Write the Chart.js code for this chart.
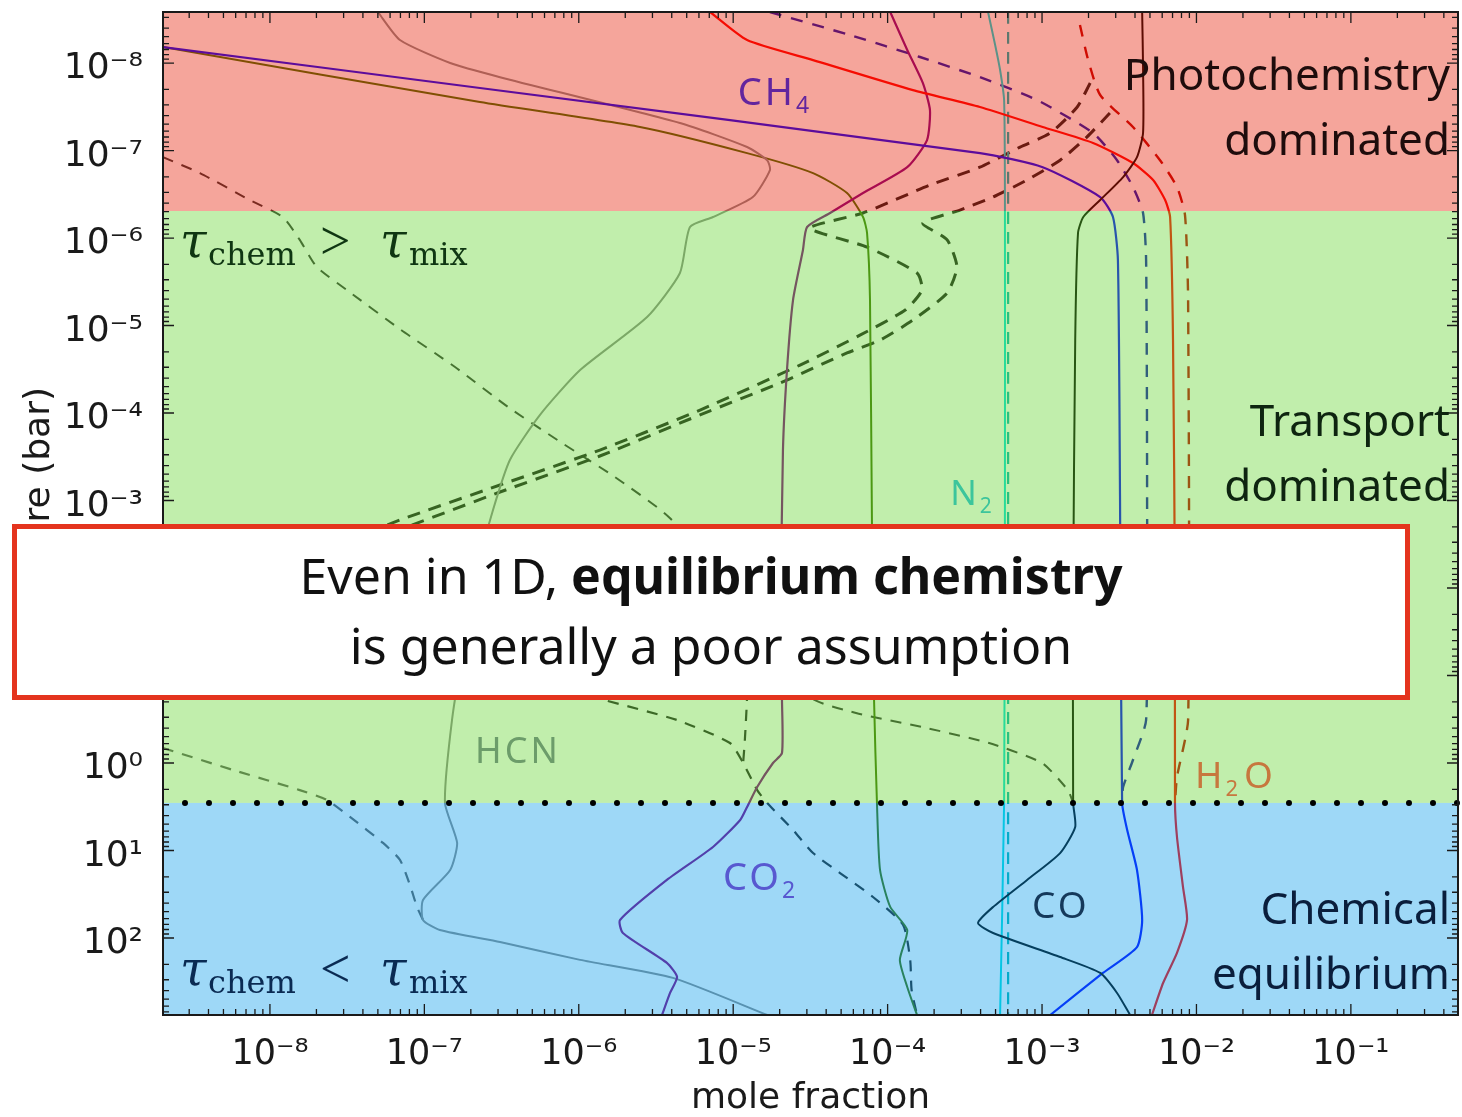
<!DOCTYPE html>
<html>
<head>
<meta charset="utf-8">
<script src="https://cdn.jsdelivr.net/npm/chart.js@4.4.1/dist/chart.umd.min.js"></script>
<style>
  html, body { margin: 0; padding: 0; background: #fff; }
  #wrap { width: 1462px; height: 1117px; }
</style>
</head>
<body>
<div id="wrap"><canvas id="chemChart" width="1462" height="1117"></canvas></div>
<script>
// axis ranges (mole fraction, pressure in bar) and tick values
const xRange = [2.03e-9, 0.494];
const yRange = [2.61e-9, 759];
const xTicks = [1e-8, 1e-7, 1e-6, 1e-5, 1e-4, 1e-3, 1e-2, 1e-1];
const yTicks = [1e-8, 1e-7, 1e-6, 1e-5, 1e-4, 1e-3, 1e-2, 1e-1, 1e0, 1e1, 1e2];

// region boundaries (bar): photochemistry | transport | chemical equilibrium
const regionBounds = [4.91e-7, 2.86];

// solid profiles: [mole fraction, pressure]
const ch4 = [[2.03e-9,6.56e-9],[2.29e-7,1.93e-8],[3.97e-4,1.07e-7],[1.01e-3,1.55e-7],[2.38e-3,3.40e-7],[2.88e-3,5.75e-7],[3.10e-3,1.78e-6],[3.20e-3,9.86e-4],[3.30e-3,2.86],[3.56e-3,5.83],[4.12e-3,16.7],[4.45e-3,62.2],[4.12e-3,127],[2.48e-3,251],[1.13e-3,759]];
const h2o = [[7.08e-6,2.61e-9],[1.23e-5,5.46e-9],[3.29e-5,9.25e-9],[1.46e-4,2.04e-8],[3.96e-4,3.18e-8],[1.01e-3,5.38e-8],[2.14e-3,8.20e-8],[3.88e-3,1.39e-7],[5.24e-3,2.17e-7],[6.27e-3,3.68e-7],[6.75e-3,5.75e-7],[7.05e-3,1.47e-5],[7.26e-3,1.37e-2],[7.26e-3,2.86],[7.48e-3,7.01],[8.18e-3,26.1],[8.69e-3,62.2],[7.48e-3,148],[6.08e-3,327],[5.15e-3,759]];
const co = [[4.45e-3,2.61e-9],[4.51e-3,1.11e-8],[4.51e-3,6.31e-8],[4.12e-3,1.19e-7],[3.35e-3,2.01e-7],[2.38e-3,3.68e-7],[1.85e-3,5.75e-7],[1.71e-3,8.77e-7],[1.64e-3,1.47e-5],[1.59e-3,1.37e-2],[1.59e-3,2.86],[1.64e-3,5.39],[1.31e-3,10.7],[8.0e-4,21.7],[4.82e-4,44.2],[3.85e-4,67.4],[4.82e-4,87.7],[1.31e-3,165],[2.38e-3,251],[3.06e-3,425],[3.72e-3,759]];
const co2 = [[1.04e-4,2.61e-9],[1.34e-4,7.10e-9],[1.69e-4,1.69e-8],[1.88e-4,3.44e-8],[1.80e-4,7.59e-8],[1.34e-4,1.55e-7],[6.93e-5,3.06e-7],[4.24e-5,5.18e-7],[3.01e-5,7.48e-7],[2.83e-5,1.37e-6],[2.44e-5,5.12e-6],[2.23e-5,3.23e-5],[2.10e-5,2.65e-4],[2.04e-5,1.37e-2],[2.07e-5,0.191],[2.07e-5,0.769],[1.81e-5,1.0],[1.43e-5,1.88],[1.23e-5,3.18],[1.11e-5,4.48],[7.40e-6,9.12],[3.72e-6,21.7],[1.85e-6,62.2],[1.93e-6,87.7],[3.72e-6,193],[4.33e-6,279],[3.90e-6,425],[3.46e-6,759]];
const n2 = [[4.47e-4,2.61e-9],[4.97e-4,6.22e-9],[5.35e-4,1.20e-8],[5.68e-4,2.65e-8],[5.75e-4,3.68e-7],[5.75e-4,9.86e-4],[5.68e-4,2.86],[5.35e-4,759]];
const hcn = [[5.0e-8,2.61e-9],[6.95e-8,5.46e-9],[1.47e-7,1.0e-8],[3.09e-7,1.45e-8],[4.52e-6,4.85e-8],[1.23e-5,9.12e-8],[1.66e-5,1.29e-7],[1.73e-5,1.67e-7],[1.34e-5,3.40e-7],[7.40e-6,5.75e-7],[5.25e-6,7.48e-7],[4.52e-6,2.51e-6],[2.77e-6,8.0e-6],[1.02e-6,3.23e-5],[5.61e-7,1.05e-4],[3.58e-7,3.44e-4],[2.78e-7,1.29e-3],[2.29e-7,4.79e-3],[1.83e-7,3.93e-2],[1.51e-7,0.323],[1.36e-7,2.86],[1.63e-7,8.20],[1.47e-7,16.7],[9.8e-8,36.8],[9.8e-8,62.2],[1.26e-7,81.1],[3.09e-7,111],[1.02e-6,178],[4.07e-6,286],[1.66e-5,759]];
const nh3 = [[2.03e-9,6.56e-9],[2.29e-7,2.79e-8],[2.49e-6,5.38e-8],[1.23e-5,1.07e-7],[3.29e-5,1.81e-7],[5.46e-5,3.06e-7],[6.93e-5,5.75e-7],[7.36e-5,8.77e-7],[7.69e-5,5.12e-6],[7.92e-5,2.01e-3],[8.17e-5,0.191],[8.53e-5,2.86],[8.93e-5,16.7],[1.04e-4,44.2],[1.34e-4,81.1],[1.20e-4,178],[1.34e-4,363],[1.55e-4,759]];

// dashed (equilibrium) profiles
const ch4Eq = [[1.73e-5,2.61e-9],[5.70e-5,4.79e-9],[1.62e-4,8.53e-9],[3.96e-4,1.45e-8],[9.29e-4,2.65e-8],[2.14e-3,6.31e-8],[3.06e-3,1.29e-7],[3.88e-3,2.61e-7],[4.51e-3,5.18e-7],[4.72e-3,1.78e-6],[4.79e-3,9.86e-4],[4.72e-3,0.323],[3.88e-3,0.924],[3.35e-3,1.88],[3.30e-3,2.86]];
const h2oEq = [[1.76e-3,3.68e-9],[1.99e-3,9.25e-9],[2.38e-3,2.32e-8],[3.88e-3,5.38e-8],[5.81e-3,1.29e-7],[7.48e-3,2.61e-7],[8.43e-3,5.46e-7],[8.83e-3,5.12e-6],[8.83e-3,0.323],[7.48e-3,1.45],[7.26e-3,2.86]];
const n2Eq = [[6.03e-4,2.61e-9],[6.03e-4,759]];
const eqA = [[2.05e-3,1.69e-8],[1.69e-3,3.18e-8],[1.13e-3,6.31e-8],[7.21e-4,9.12e-8],[3.96e-4,1.55e-7],[1.88e-4,2.48e-7],[6.93e-5,5.18e-7],[3.14e-5,7.69e-7],[7.36e-5,1.27e-6],[1.55e-4,2.51e-6],[1.67e-4,3.93e-6],[1.30e-4,6.65e-6],[6.62e-5,1.29e-5],[2.71e-5,2.83e-5],[6.10e-6,9.24e-5],[1.37e-6,2.65e-4],[3.09e-7,6.65e-4],[6.95e-8,1.67e-3],[1.56e-8,4.79e-3],[2.03e-9,1.78e-2]];
const eqB = [[2.75e-3,3.73e-8],[1.95e-3,7.02e-8],[1.31e-3,1.29e-7],[8.0e-4,2.17e-7],[4.82e-4,3.40e-7],[2.94e-4,4.79e-7],[1.69e-4,6.74e-7],[2.43e-4,1.05e-6],[2.81e-4,2.14e-6],[2.43e-4,4.25e-6],[1.46e-4,8.65e-6],[8.93e-5,1.47e-5],[5.46e-5,2.06e-5],[2.01e-5,4.54e-5],[6.10e-6,1.05e-4],[1.37e-6,3.10e-4],[3.09e-7,8.0e-4],[8.07e-8,1.95e-3],[1.56e-8,5.91e-3],[2.03e-9,2.32e-2]];
const eqC = [[2.03e-9,1.19e-7],[3.52e-9,1.81e-7],[7.41e-9,3.68e-7],[1.21e-8,5.75e-7],[1.56e-8,1.05e-6],[2.01e-8,2.14e-6],[3.15e-8,3.93e-6],[7.05e-8,1.12e-5],[1.58e-7,2.98e-5],[3.48e-7,8.53e-5],[7.78e-7,2.20e-4],[1.71e-6,5.38e-4],[3.84e-6,1.55e-3],[1.11e-5,1.37e-2],[3.14e-5,0.176],[6.24e-5,0.268],[1.67e-4,0.388],[4.54e-4,0.591],[1.0e-3,1.0],[1.47e-3,2.04],[1.59e-3,2.86]];
const eqD = [[2.03e-9,9.24e-3],[1.46e-6,0.191],[4.33e-6,0.323],[9.53e-6,0.591],[1.16e-5,1.0],[1.43e-5,2.04],[1.66e-5,2.86],[2.44e-5,5.83],[3.29e-5,10.7],[4.92e-5,18.1],[8.04e-5,34.0],[1.26e-4,71.0],[1.40e-4,178],[1.43e-4,393],[1.55e-4,759]];
const eqE = [[1.25e-5,5.11e-2],[1.23e-5,0.176],[1.19e-5,0.546],[1.16e-5,1.0]];
const hcnEq = [[2.03e-9,0.674],[5.75e-9,1.20],[1.56e-8,2.04],[2.34e-8,2.65],[3.30e-8,4.14],[5.40e-8,8.20],[6.95e-8,12.8],[8.07e-8,24.8],[8.96e-8,44.2],[9.8e-8,62.2]];

// species labels: [mole fraction, pressure] of the left baseline
const speciesLabels = [
  { parts: [['CH', 0], ['4', 1]], at: [1.07e-5, 3.0e-8], size: 38, color: '#62259e' },
  { parts: [['N', 0], ['2', 1]], at: [2.54e-4, 1.13e-3], size: 35, color: '#3cc59c' },
  { parts: [['HCN', 0]], at: [2.13e-7, 1.0], size: 36, color: '#6c9c6a' },
  { parts: [['H', 0], ['2', 1], ['O', 0]], at: [9.8e-3, 1.93], size: 37, color: '#c7773e' },
  { parts: [['CO', 0], ['2', 1]], at: [8.59e-6, 28.3], size: 38, color: '#5858d0' },
  { parts: [['CO', 0]], at: [8.61e-4, 59.1], size: 37, color: '#15395b' }
];

const SANS = '"Noto Sans"';

const pts = arr => arr.map(p => ({ x: p[0], y: p[1] }));
const solid = (data, color, w) => ({ data: pts(data), borderColor: color, borderWidth: w || 2 });
const dashed = (data, color, w, dash) => ({ data: pts(data), borderColor: color, borderWidth: w || 2, borderDash: dash || [11, 9] });

const sup = { '-': '\u207B', '0': '\u2070', '1': '\u00B9', '2': '\u00B2', '3': '\u00B3', '4': '\u2074', '5': '\u2075', '6': '\u2076', '7': '\u2077', '8': '\u2078', '9': '\u2079' };
const expLabel = v => '10' + String(Math.round(Math.log10(v))).split('').map(c => sup[c]).join('');

function drawParts(ctx, x, y, parts, size, color, family) {
  ctx.fillStyle = color;
  ctx.textAlign = 'left';
  ctx.textBaseline = 'alphabetic';
  ctx.letterSpacing = '3px';
  let cx = x;
  for (const [t, sub] of parts) {
    ctx.font = (sub ? Math.round(size * 0.6) : size) + 'px ' + family;
    ctx.fillText(t, cx, y + (sub ? size * 0.22 : 0));
    cx += ctx.measureText(t).width + (sub ? 3 : 0);
  }
  ctx.letterSpacing = '0px';
}

function drawTau(ctx, x, base, rel, color) {
  ctx.fillStyle = color;
  ctx.textAlign = 'left';
  ctx.textBaseline = 'alphabetic';
  ctx.font = 'italic 48px "DejaVu Serif"';
  ctx.fillText('\u03C4', x, base);
  ctx.font = '32px "DejaVu Serif"';
  ctx.fillText('chem', x + 28, base + 8);
  ctx.font = '54px "Liberation Serif"';
  ctx.fillText(rel, x + 140, base + 2);
  ctx.font = 'italic 48px "DejaVu Serif"';
  ctx.fillText('\u03C4', x + 200, base);
  ctx.font = '32px "DejaVu Serif"';
  ctx.fillText('mix', x + 229, base + 8);
}

function logMarks(lo, hi) {
  const out = [];
  for (let n = Math.floor(Math.log10(lo)); n <= Math.ceil(Math.log10(hi)); n++) {
    for (let k = 1; k <= 9; k++) {
      const v = k * Math.pow(10, n);
      if (v >= lo && v <= hi) out.push({ v, major: k === 1 });
    }
  }
  return out;
}

const decorations = {
  id: 'decorations',
  afterDatasetsDraw(chart) {
    const { ctx, chartArea: a, scales: { x, y } } = chart;
    const yb1 = y.getPixelForValue(regionBounds[0]);
    const yb2 = y.getPixelForValue(regionBounds[1]);

    // translucent regime bands laid over the profiles
    ctx.save();
    ctx.globalAlpha = 0.4;
    ctx.fillStyle = 'rgb(230,30,5)';
    ctx.fillRect(a.left, a.top, a.width, yb1 - a.top);
    ctx.fillStyle = 'rgb(100,212,47)';
    ctx.fillRect(a.left, yb1, a.width, yb2 - yb1);
    ctx.fillStyle = 'rgb(12,157,235)';
    ctx.fillRect(a.left, yb2, a.width, a.bottom - yb2);
    ctx.restore();

    // dotted quench boundary
    ctx.save();
    ctx.strokeStyle = '#000';
    ctx.lineWidth = 6;
    ctx.lineCap = 'round';
    ctx.setLineDash([0, 24]);
    ctx.beginPath();
    ctx.moveTo(a.left + 22, yb2);
    ctx.lineTo(a.right, yb2);
    ctx.stroke();
    ctx.restore();

    // frame and inward ticks
    ctx.save();
    ctx.strokeStyle = '#1a1a1a';
    ctx.lineWidth = 2;
    ctx.strokeRect(a.left, a.top, a.width, a.height);
    ctx.lineWidth = 1.3;
    ctx.beginPath();
    logMarks(xRange[0], xRange[1]).forEach(m => {
      const px = x.getPixelForValue(m.v), len = m.major ? 11 : 6;
      ctx.moveTo(px, a.bottom); ctx.lineTo(px, a.bottom - len);
      ctx.moveTo(px, a.top); ctx.lineTo(px, a.top + len);
    });
    logMarks(yRange[0], yRange[1]).forEach(m => {
      const py = y.getPixelForValue(m.v), len = m.major ? 11 : 6;
      ctx.moveTo(a.left, py); ctx.lineTo(a.left + len, py);
      ctx.moveTo(a.right, py); ctx.lineTo(a.right - len, py);
    });
    ctx.stroke();
    ctx.restore();

    // species labels
    ctx.save();
    speciesLabels.forEach(l => {
      drawParts(ctx, x.getPixelForValue(l.at[0]), y.getPixelForValue(l.at[1]), l.parts, l.size, l.color, SANS);
    });

    // regime labels
    ctx.font = '44px ' + SANS;
    ctx.textAlign = 'right';
    ctx.textBaseline = 'alphabetic';
    const rx = a.right - 8;
    ctx.fillStyle = '#1e0c0c';
    ctx.fillText('Photochemistry', rx, a.top + 78);
    ctx.fillText('dominated', rx, a.top + 143);
    ctx.fillStyle = '#0e2410';
    ctx.fillText('Transport', rx, a.top + 424);
    ctx.fillText('dominated', rx, a.top + 489);
    ctx.fillStyle = '#0a1e3c';
    ctx.fillText('Chemical', rx, a.top + 912);
    ctx.fillText('equilibrium', rx, a.top + 977);

    drawTau(ctx, a.left + 17, a.top + 245, '>', '#0f3612');
    drawTau(ctx, a.left + 17, a.bottom - 30, '<', '#0a2a52');
    ctx.restore();
  },
  afterDraw(chart) {
    const { ctx } = chart;
    // headline box
    ctx.save();
    ctx.fillStyle = '#fff';
    ctx.fillRect(14, 526, 1394, 172);
    ctx.strokeStyle = '#e4341e';
    ctx.lineWidth = 5;
    ctx.strokeRect(14.5, 526.5, 1393, 171);
    ctx.fillStyle = '#111';
    ctx.textBaseline = 'alphabetic';
    ctx.textAlign = 'left';
    ctx.font = '50px ' + SANS;
    const t1 = 'Even in 1D, ';
    const w1 = ctx.measureText(t1).width;
    ctx.font = 'bold 50px ' + SANS;
    const t2 = 'equilibrium chemistry';
    const w2 = ctx.measureText(t2).width;
    const sx = 711 - (w1 + w2) / 2;
    ctx.font = '50px ' + SANS;
    ctx.fillText(t1, sx, 594);
    ctx.font = 'bold 50px ' + SANS;
    ctx.fillText(t2, sx + w1, 594);
    ctx.font = '50px ' + SANS;
    ctx.textAlign = 'center';
    ctx.fillText('is generally a poor assumption', 711, 664);
    ctx.restore();
  }
};

const ctx = document.getElementById('chemChart').getContext('2d');
new Chart(ctx, {
  type: 'scatter',
  data: {
    datasets: [
      solid(co, '#000000', 2),
      solid(ch4, '#0000ff', 2.2),
      solid(h2o, '#ff0000', 2.2),
      solid(co2, '#800080', 2.2),
      solid(n2, '#00e0e0', 2),
      solid(hcn, '#8a8a8a', 2),
      solid(nh3, '#3c7000', 2),
      dashed(ch4Eq, '#1010b0', 2.4, [12, 10]),
      dashed(h2oEq, '#c00000', 2.4, [12, 10]),
      dashed(n2Eq, '#00b4b4', 2.2, [12, 8]),
      dashed(eqA, '#1a1a1a', 3, [13, 9]),
      dashed(eqB, '#1a1a1a', 3, [13, 9]),
      dashed(eqC, '#333333', 2, [11, 9]),
      dashed(eqD, '#222222', 2.2, [11, 9]),
      dashed(eqE, '#222222', 2.2, [11, 9]),
      dashed(hcnEq, '#5c5c5c', 2.2, [11, 9])
    ]
  },
  options: {
    responsive: false,
    animation: false,
    showLine: true,
    elements: {
      point: { radius: 0, hoverRadius: 0 },
      line: { tension: 0.2, fill: false, borderCapStyle: 'butt' }
    },
    layout: { padding: { top: 12, right: 4, left: 0, bottom: 0 } },
    plugins: { legend: { display: false }, tooltip: { enabled: false } },
    scales: {
      x: {
        type: 'logarithmic',
        min: xRange[0], max: xRange[1],
        afterBuildTicks: s => { s.ticks = xTicks.map(v => ({ value: v })); },
        afterFit: s => { s.height = 102; s.paddingLeft = 0; s.paddingRight = 0; },
        grid: { display: false },
        border: { display: false },
        ticks: {
          callback: v => expLabel(v),
          font: { family: 'DejaVu Sans', size: 35 },
          color: '#1a1a1a', padding: 11, maxRotation: 0, autoSkip: false
        },
        title: {
          display: true, text: 'mole fraction',
          font: { family: 'DejaVu Sans', size: 36 },
          color: '#1a1a1a', padding: { top: 0, bottom: -3 }
        }
      },
      y: {
        type: 'logarithmic', reverse: true,
        min: yRange[0], max: yRange[1],
        afterBuildTicks: s => { s.ticks = yTicks.map(v => ({ value: v })); },
        afterFit: s => { s.width = 163; s.paddingTop = 0; s.paddingBottom = 0; },
        grid: { display: false },
        border: { display: false },
        ticks: {
          callback: v => expLabel(v),
          font: { family: 'DejaVu Sans', size: 36 },
          color: '#1a1a1a', padding: 12, autoSkip: false, labelOffset: 6
        },
        title: {
          display: true, text: 'Pressure (bar)',
          font: { family: 'DejaVu Sans', size: 36 },
          color: '#1a1a1a', padding: { top: 18, bottom: 0 }
        }
      }
    }
  },
  plugins: [decorations]
});
</script>
</body>
</html>
